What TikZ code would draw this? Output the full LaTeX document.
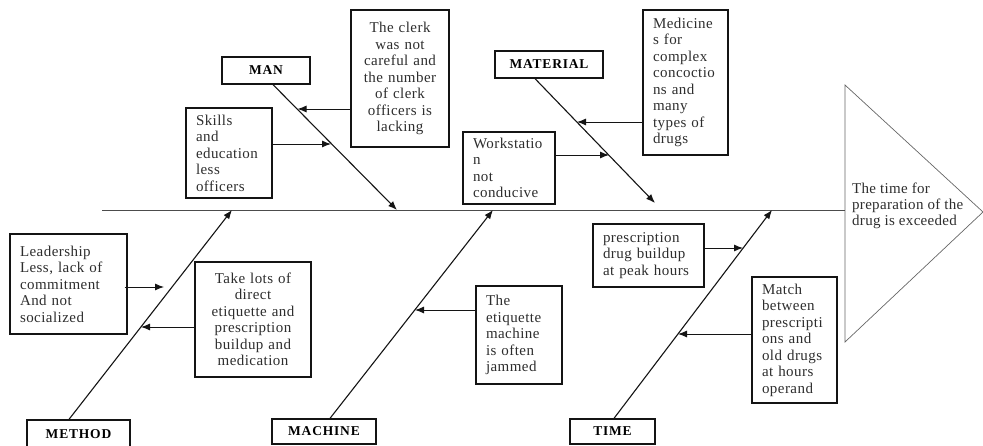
\documentclass[tikz,border=0pt]{standalone}
\usepackage{fontspec}
\setmainfont{Liberation Serif}
\usetikzlibrary{arrows.meta,calc}
\definecolor{txt}{RGB}{45,45,45}
\definecolor{ln}{RGB}{20,20,20}
\tikzset{
  box/.style={draw=ln, line width=1.3pt, inner xsep=10pt, inner ysep=0pt, text=txt,
    font=\fontsize{15}{16.5}\selectfont\addfontfeature{LetterSpace=3}},
  lbox/.style={box, align=left},
  cbox/.style={box, align=center},
  cat/.style={draw=ln, line width=1.3pt, inner sep=0pt, text=black,
    font=\fontsize{13.5}{16}\selectfont\bfseries\addfontfeature{LetterSpace=6}},
  bone/.style={draw=ln, line width=1.1pt, -{Latex[length=9pt,width=7pt]}},
  sarr/.style={draw=ln, line width=0.9pt, -{Latex[length=9pt,width=7pt]}},
}
\begin{document}
\begin{tikzpicture}[x=1pt,y=-1pt]
\useasboundingbox (0,0) rectangle (983,446);
% fish head
\coordinate (tT) at (845,85);
\coordinate (tB) at (845,342);
\coordinate (tA) at (983,212);
\coordinate (tS) at (845,210);
\coordinate (sp0) at (102,210);
\draw[draw=black!60, line width=0.7pt] (tT) -- (tA) -- (tB) -- cycle;
\draw[draw=black!70, line width=0.7pt] (sp0) -- (tS);
\node[anchor=west, align=left, inner sep=0pt, text=txt,
  font=\fontsize{15}{16.3}\selectfont\addfontfeature{LetterSpace=2}] (goal) at (852,206)
  {The time for\\preparation of the\\drug is exceeded};

% category boxes
\node[cat, minimum width=88pt, minimum height=27pt] (man) at (266,70.5) {MAN};
\node[cat, minimum width=108pt, minimum height=27pt] (material) at (549,64.5) {MATERIAL};
\node[cat, minimum width=103pt, minimum height=28pt] (method) at (78.5,434) {METHOD};
\node[cat, minimum width=104pt, minimum height=25pt] (machine) at (324,431.5) {MACHINE};
\node[cat, minimum width=85pt, minimum height=25pt] (time) at (612.5,431.5) {TIME};

% cause boxes
\node[cbox, text width=78pt, minimum height=137pt] (clerk) at (400,78.5)
  {The clerk\\was not\\careful and\\the number\\of clerk\\officers is\\lacking};
\node[lbox, text width=66pt, minimum height=90pt] (skills) at (229,153)
  {Skills\\and\\education\\less\\officers};
\node[lbox, text width=65pt, minimum height=145pt] (medic) at (685.5,82.5)
  {Medicine\\s for\\complex\\concoctio\\ns and\\many\\types of\\drugs};
\node[lbox, text width=72pt, minimum height=72pt] (work) at (509,168)
  {Workstatio\\n\\not\\conducive};
\node[lbox, text width=97pt, minimum height=100pt] (lead) at (68.5,284)
  {Leadership\\Less, lack of\\commitment\\And not\\socialized};
\node[cbox, text width=96pt, minimum height=115pt] (take) at (253,319.5)
  {Take lots of\\direct\\etiquette and\\prescription\\buildup and\\medication};
\node[lbox, text width=66pt, minimum height=98pt] (etiq) at (519,335)
  {The\\etiquette\\machine\\is often\\jammed};
\node[lbox, text width=91pt, minimum height=63pt] (presc) at (648.5,255.5)
  {prescription\\drug buildup\\at peak hours};
\node[lbox, text width=65pt, minimum height=126pt] (match) at (794.5,340)
  {Match\\between\\prescripti\\ons and\\old drugs\\at hours\\operand};

% bone end points on the spine
\coordinate (eMan) at (397,210);
\coordinate (eMat) at (655,203);
\coordinate (eMet) at (232,210);
\coordinate (eMac) at (493,210);
\coordinate (eTim) at (772,210);

% bones
\draw[bone] ($(man.south)+(7,0)$) -- (eMan);
\draw[bone] ($(material.south)+(-14,0)$) -- (eMat);
\draw[bone] ($(method.north)+(-9.5,0)$) -- (eMet);
\draw[bone] ($(machine.north)+(6,0)$) -- (eMac);
\draw[bone] ($(time.north)+(1.5,0)$) -- (eTim);

% small arrow tips on bones
\coordinate (c1) at (297.5,109);
\coordinate (c2) at (331,144);
\coordinate (c3) at (577,122);
\coordinate (c4) at (609,155);
\coordinate (c5) at (164,287);
\coordinate (c6) at (141,327);
\coordinate (c7) at (415,310);
\coordinate (c8) at (743,248);
\coordinate (c9) at (678,334);

\draw[sarr] (clerk.west |- c1) -- (c1);
\draw[sarr] (skills.east |- c2) -- (c2);
\draw[sarr] (medic.west |- c3) -- (c3);
\draw[sarr] (work.east |- c4) -- (c4);
\draw[sarr] ($(lead.east |- c5)+(-3,0)$) -- (c5);
\draw[sarr] (take.west |- c6) -- (c6);
\draw[sarr] (etiq.west |- c7) -- (c7);
\draw[sarr] (presc.east |- c8) -- (c8);
\draw[sarr] (match.west |- c9) -- (c9);
\end{tikzpicture}
\end{document}
